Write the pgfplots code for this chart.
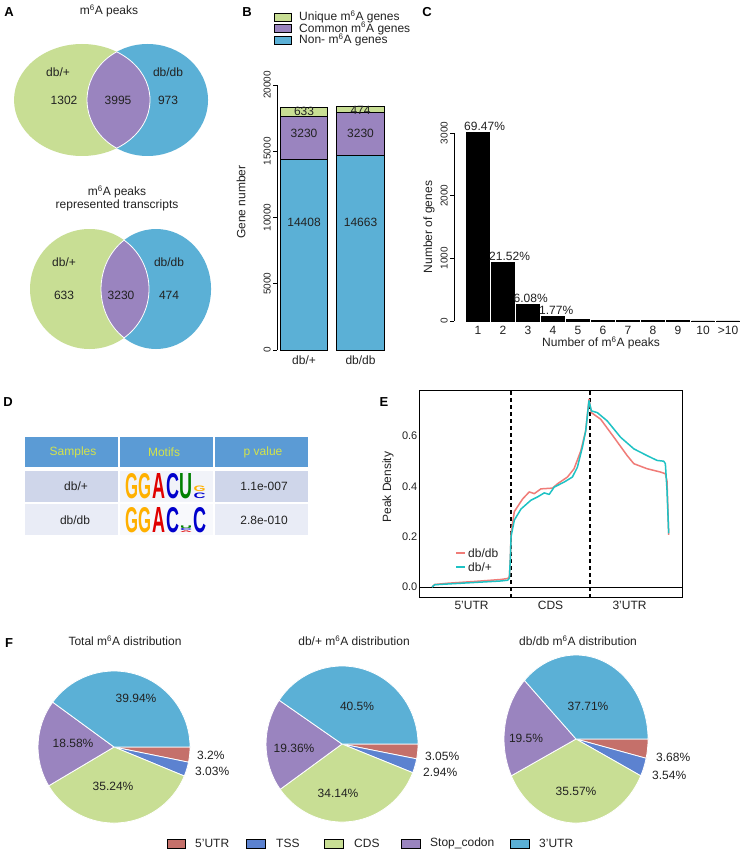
\documentclass[border=0pt]{standalone}
\usepackage{fontspec}
\setmainfont{Liberation Sans}
\usepackage{graphicx}
\usepackage{pgfplots}
\pgfplotsset{compat=1.18}
\pgfplotsset{/pgf/number format/assume math mode=true}

\definecolor{vgreen}{HTML}{C8DE94}
\definecolor{vblue}{HTML}{5BB0D6}
\definecolor{vpurple}{HTML}{9A84BF}
\definecolor{pred}{HTML}{C5706A}
\definecolor{ptss}{HTML}{5C82D0}
\definecolor{hdr}{HTML}{5B9BD5}
\definecolor{hdrtxt}{HTML}{D4E34A}
\definecolor{rowa}{HTML}{CFD6EA}
\definecolor{rowb}{HTML}{E9ECF6}
\definecolor{lred}{HTML}{F07C78}
\definecolor{lcyan}{HTML}{1EC2C4}
\definecolor{logoG}{HTML}{FFB000}
\definecolor{logoA}{HTML}{E00000}
\definecolor{logoC}{HTML}{0000CC}
\definecolor{logoU}{HTML}{008000}
\definecolor{txt}{HTML}{222222}

\newcommand\fs[1]{\fontsize{#1}{#1}\selectfont}
\newcommand\mA{m\textsuperscript{6}A}

% pie: cx, cy, rx, ry, 5'UTR, TSS, CDS, Stop_codon, 3'UTR (percent, clockwise from 3 o'clock)
\newcommand{\drawpie}[9]{%
\pgfmathsetmacro\pa{-3.6*(#5)}%
\pgfmathsetmacro\pb{\pa-3.6*(#6)}%
\pgfmathsetmacro\pc{\pb-3.6*(#7)}%
\pgfmathsetmacro\pd{\pc-3.6*(#8)}%
\pgfmathsetmacro\pe{\pd-3.6*(#9)}%
\edef\pietmp{%
\noexpand\filldraw[fill=pred,draw=white,line width=0.8pt] (axis cs:#1,#2) -- ++(0:#3pt and #4pt) arc[start angle=0,end angle=\pa,x radius=#3pt,y radius=#4pt] -- cycle;%
\noexpand\filldraw[fill=ptss,draw=white,line width=0.8pt] (axis cs:#1,#2) -- ++(\pa:#3pt and #4pt) arc[start angle=\pa,end angle=\pb,x radius=#3pt,y radius=#4pt] -- cycle;%
\noexpand\filldraw[fill=vgreen,draw=white,line width=0.8pt] (axis cs:#1,#2) -- ++(\pb:#3pt and #4pt) arc[start angle=\pb,end angle=\pc,x radius=#3pt,y radius=#4pt] -- cycle;%
\noexpand\filldraw[fill=vpurple,draw=white,line width=0.8pt] (axis cs:#1,#2) -- ++(\pc:#3pt and #4pt) arc[start angle=\pc,end angle=\pd,x radius=#3pt,y radius=#4pt] -- cycle;%
\noexpand\filldraw[fill=vblue,draw=white,line width=0.8pt] (axis cs:#1,#2) -- ++(\pd:#3pt and #4pt) arc[start angle=\pd,end angle=\pe,x radius=#3pt,y radius=#4pt] -- cycle;%
}\pietmp}

% motif letter: x-left, y-bottom, width, height, color, letter
\newcommand{\logo}[6]{\node[inner sep=0pt, anchor=south west] at (axis cs:#1,#2) {\resizebox{#3pt}{#4pt}{\textcolor{#5}{\bfseries #6}}};}

\begin{document}
\begin{tikzpicture}
\fill[white] (0pt,0pt) rectangle (742pt,856pt);

%================ background axis in pixel coordinates =================
\begin{axis}[at={(0pt,0pt)}, anchor=south west, scale only axis,
  width=742pt, height=856pt, xmin=0, xmax=742, ymin=0, ymax=856,
  y dir=reverse, hide axis, clip=false]
\addplot[draw=none] coordinates {(0,0)};

% panel letters
\node[font=\fs{13}\bfseries] at (axis cs:8,12) {A};
\node[font=\fs{13}\bfseries] at (axis cs:246,12) {B};
\node[font=\fs{13}\bfseries] at (axis cs:426,12) {C};
\node[font=\fs{13}\bfseries] at (axis cs:7,402) {D};
\node[font=\fs{13}\bfseries] at (axis cs:383,402) {E};
\node[font=\fs{13}\bfseries] at (axis cs:8,643) {F};

% ---- Venn top
\node[font=\fs{12}, text=txt] at (axis cs:108,11) {\mA\ peaks};
\fill[vgreen] (axis cs:81,100) ellipse [x radius=68pt, y radius=56pt];
\fill[vblue] (axis cs:146.5,100) ellipse [x radius=60.5pt, y radius=56pt];
\filldraw[fill=vpurple, draw=white, line width=0.8pt] (axis cs:81,100) ++(59.36:68pt and 56pt)
  arc[start angle=59.36, end angle=-59.36, x radius=68pt, y radius=56pt]
  arc[start angle=239.36, end angle=120.64, x radius=60.5pt, y radius=56pt] -- cycle;
\node[font=\fs{12}, text=txt] at (axis cs:57,72) {db/+};
\node[font=\fs{12}, text=txt] at (axis cs:63,100) {1302};
\node[font=\fs{12}, text=txt] at (axis cs:117,100) {3995};
\node[font=\fs{12}, text=txt] at (axis cs:167,72) {db/db};
\node[font=\fs{12}, text=txt] at (axis cs:167,100) {973};

% ---- Venn bottom
\node[font=\fs{12}, text=txt] at (axis cs:116,192) {\mA\ peaks};
\node[font=\fs{12}, text=txt] at (axis cs:116,205) {represented transcripts};
\fill[vgreen] (axis cs:88.5,289) ellipse [x radius=59.5pt, y radius=60pt];
\fill[vblue] (axis cs:155,289) ellipse [x radius=55pt, y radius=60pt];
\filldraw[fill=vpurple, draw=white, line width=0.8pt] (axis cs:88.5,289) ++(54.49:59.5pt and 60pt)
  arc[start angle=54.49, end angle=-54.49, x radius=59.5pt, y radius=60pt]
  arc[start angle=234.49, end angle=125.51, x radius=55pt, y radius=60pt] -- cycle;
\node[font=\fs{12}, text=txt] at (axis cs:63,262) {db/+};
\node[font=\fs{12}, text=txt] at (axis cs:63,295) {633};
\node[font=\fs{12}, text=txt] at (axis cs:120,295) {3230};
\node[font=\fs{12}, text=txt] at (axis cs:168,262) {db/db};
\node[font=\fs{12}, text=txt] at (axis cs:168,295) {474};

% ---- B legend and label
\filldraw[fill=vgreen, draw=black, line width=0.8pt] (axis cs:273,13) rectangle (axis cs:290,21);
\filldraw[fill=vpurple, draw=black, line width=0.8pt] (axis cs:273,24.5) rectangle (axis cs:290,32.5);
\filldraw[fill=vblue, draw=black, line width=0.8pt] (axis cs:273,36) rectangle (axis cs:290,44);
\node[font=\fs{12}, text=txt, anchor=west, inner sep=0pt] at (axis cs:298,17) {Unique \mA\ genes};
\node[font=\fs{12}, text=txt, anchor=west, inner sep=0pt] at (axis cs:298,28.5) {Common \mA\ genes};
\node[font=\fs{12}, text=txt, anchor=west, inner sep=0pt] at (axis cs:298,40) {Non- \mA\ genes};
\node[font=\fs{12}, text=txt, rotate=90] at (axis cs:240,202) {Gene number};

% ---- C labels
\node[font=\fs{12}, text=txt, rotate=90] at (axis cs:428,227) {Number of genes};
\node[font=\fs{12}, text=txt] at (axis cs:600,343) {Number of \mA\ peaks};

% ---- E labels and legend
\node[font=\fs{12}, text=txt, rotate=90] at (axis cs:387,487) {Peak Density};
\draw[lred, line width=1.5pt] (axis cs:455,553) -- (axis cs:464,553);
\draw[lcyan, line width=1.5pt] (axis cs:455,567) -- (axis cs:464,567);
\node[font=\fs{12}, text=txt, anchor=west, inner sep=0pt] at (axis cs:467,553) {db/db};
\node[font=\fs{12}, text=txt, anchor=west, inner sep=0pt] at (axis cs:467,567) {db/+};

% ---- D table
\fill[hdr] (axis cs:24,437) rectangle (axis cs:117,467);
\fill[hdr] (axis cs:118.5,437) rectangle (axis cs:212,467);
\fill[hdr] (axis cs:214,437) rectangle (axis cs:307,467);
\fill[rowa] (axis cs:24,471) rectangle (axis cs:117,502);
\fill[white!70!rowa] (axis cs:118.5,471) rectangle (axis cs:212,502);
\fill[rowa] (axis cs:214,471) rectangle (axis cs:307,502);
\fill[rowb] (axis cs:24,504) rectangle (axis cs:117,535);
\fill[white!70!rowb] (axis cs:118.5,504) rectangle (axis cs:212,535);
\fill[rowb] (axis cs:214,504) rectangle (axis cs:307,535);
\node[font=\fs{12}, text=hdrtxt] at (axis cs:72,452) {Samples};
\node[font=\fs{12}, text=hdrtxt] at (axis cs:163,452) {Motifs};
\node[font=\fs{12}, text=hdrtxt] at (axis cs:262,452) {p value};
\node[font=\fs{12}, text=txt] at (axis cs:75,486) {db/+};
\node[font=\fs{12}, text=txt] at (axis cs:263,486) {1.1e-007};
\node[font=\fs{12}, text=txt] at (axis cs:74,520) {db/db};
\node[font=\fs{12}, text=txt] at (axis cs:263,520) {2.8e-010};
% motif logos (row 1)
\logo{124}{499}{13}{25}{logoG}{G}
\logo{137.6}{499}{13}{25}{logoG}{G}
\logo{151.2}{499}{13}{25}{logoA}{A}
\logo{164.8}{499}{13}{25}{logoC}{C}
\logo{178.4}{499}{13}{25}{logoU}{U}
\logo{192.5}{492}{12}{5.5}{logoG}{G}
\logo{192.5}{499}{12}{5.5}{logoC}{C}
% motif logos (row 2)
\logo{124}{533}{13}{25}{logoG}{G}
\logo{137.6}{533}{13}{25}{logoG}{G}
\logo{151.2}{533}{13}{25}{logoA}{A}
\logo{164.8}{533}{13}{25}{logoC}{C}
\logo{179}{528.5}{12}{2.6}{logoU}{U}
\logo{179}{531}{12}{2}{logoC}{C}
\logo{179}{533}{12}{1.6}{logoA}{A}
\logo{192.5}{533}{13}{25}{logoC}{C}

% ---- F pies
\node[font=\fs{12}, text=txt] at (axis cs:124,641) {Total \mA\ distribution};
\node[font=\fs{12}, text=txt] at (axis cs:353,641) {db/+ \mA\ distribution};
\node[font=\fs{12}, text=txt] at (axis cs:577,641) {db/db \mA\ distribution};
\drawpie{113}{747}{76}{76}{3.2}{3.03}{35.24}{18.58}{39.94}
\drawpie{341}{744}{76}{78}{3.05}{2.94}{34.14}{19.36}{40.5}
\drawpie{575}{739}{72}{84}{3.68}{3.54}{35.57}{19.5}{37.71}
% pie labels
\node[font=\fs{12}, text=txt] at (axis cs:135,698) {39.94\%};
\node[font=\fs{12}, text=txt] at (axis cs:72,743) {18.58\%};
\node[font=\fs{12}, text=txt] at (axis cs:112,786) {35.24\%};
\node[font=\fs{12}, text=txt, anchor=west, inner sep=0pt] at (axis cs:196,755) {3.2\%};
\node[font=\fs{12}, text=txt, anchor=west, inner sep=0pt] at (axis cs:194,771) {3.03\%};
\node[font=\fs{12}, text=txt] at (axis cs:356,706) {40.5\%};
\node[font=\fs{12}, text=txt] at (axis cs:293,748) {19.36\%};
\node[font=\fs{12}, text=txt] at (axis cs:337,793) {34.14\%};
\node[font=\fs{12}, text=txt, anchor=west, inner sep=0pt] at (axis cs:424,756) {3.05\%};
\node[font=\fs{12}, text=txt, anchor=west, inner sep=0pt] at (axis cs:422,772) {2.94\%};
\node[font=\fs{12}, text=txt] at (axis cs:587,706) {37.71\%};
\node[font=\fs{12}, text=txt] at (axis cs:525,738) {19.5\%};
\node[font=\fs{12}, text=txt] at (axis cs:575,791) {35.57\%};
\node[font=\fs{12}, text=txt, anchor=west, inner sep=0pt] at (axis cs:655,757) {3.68\%};
\node[font=\fs{12}, text=txt, anchor=west, inner sep=0pt] at (axis cs:651,775) {3.54\%};
% pie legend
\filldraw[fill=pred, draw=black, line width=0.8pt] (axis cs:166,839) rectangle (axis cs:184,848);
\filldraw[fill=ptss, draw=black, line width=0.8pt] (axis cs:245,839) rectangle (axis cs:264,848);
\filldraw[fill=vgreen, draw=black, line width=0.8pt] (axis cs:323,839) rectangle (axis cs:342,848);
\filldraw[fill=vpurple, draw=black, line width=0.8pt] (axis cs:400,839) rectangle (axis cs:419,848);
\filldraw[fill=vblue, draw=black, line width=0.8pt] (axis cs:509,839) rectangle (axis cs:528,848);
\node[font=\fs{12}, text=txt, anchor=west, inner sep=0pt] at (axis cs:194,843.5) {5'UTR};
\node[font=\fs{12}, text=txt, anchor=west, inner sep=0pt] at (axis cs:275,843.5) {TSS};
\node[font=\fs{12}, text=txt, anchor=west, inner sep=0pt] at (axis cs:353,843.5) {CDS};
\node[font=\fs{12}, text=txt, anchor=west, inner sep=0pt] at (axis cs:429,843.5) {Stop\_codon};
\node[font=\fs{12}, text=txt, anchor=west, inner sep=0pt] at (axis cs:538,843.5) {3'UTR};
\end{axis}

%================ B: stacked bars =================
\begin{axis}[at={(276pt,506pt)}, anchor=south west, scale only axis,
  width=111.76pt, height=265pt, xmin=0.522, xmax=2.5, ymin=0, ymax=20000,
  ybar stacked, bar width=47.5pt, scaled y ticks=false,
  axis y line*=left, axis x line*=bottom,
  x axis line style={draw=none}, y axis line style={-, line width=0.8pt},
  xtick={1,2}, xticklabels={db/+,db/db}, xtick style={draw=none},
  ytick={0,5000,10000,15000,20000}, yticklabels={0,5000,10000,15000,20000},
  ytick style={line width=0.8pt, black}, tick align=outside, major tick length=4pt,
  yticklabel style={rotate=90, anchor=south, font=\fs{10}, text=txt, inner sep=2pt},
  xticklabel style={font=\fs{12}, text=txt, inner sep=2pt},
  clip=false]
\addplot[fill=vblue, draw=black, line width=0.9pt] coordinates {(1,14408) (2,14663)};
\addplot[fill=vpurple, draw=black, line width=0.9pt] coordinates {(1,3230) (2,3230)};
\addplot[fill=vgreen, draw=black, line width=0.9pt] coordinates {(1,633) (2,474)};
\end{axis}
% B: segment labels on top of the bars (same geometry)
\begin{axis}[at={(276pt,506pt)}, anchor=south west, scale only axis,
  width=111.76pt, height=265pt, xmin=0.522, xmax=2.5, ymin=0, ymax=20000,
  hide axis, clip=false]
\addplot[draw=none] coordinates {(1,0)};
\node[font=\fs{12}, text=txt] at (axis cs:1,9650) {14408};
\node[font=\fs{12}, text=txt] at (axis cs:2,9650) {14663};
\node[font=\fs{12}, text=txt] at (axis cs:1,16350) {3230};
\node[font=\fs{12}, text=txt] at (axis cs:2,16350) {3230};
\node[font=\fs{12}, text=txt] at (axis cs:1,18000) {633};
\node[font=\fs{12}, text=txt] at (axis cs:2,18100) {474};
\end{axis}

%================ C: peak-count bars =================
\begin{axis}[at={(453pt,535pt)}, anchor=south west, scale only axis,
  width=286.5pt, height=188pt, xmin=0.04, xmax=11.5, ymin=0, ymax=3000,
  ybar, bar width=22.5pt, scaled y ticks=false,
  axis y line*=left, axis x line*=bottom,
  x axis line style={draw=none}, y axis line style={-, line width=0.8pt},
  xtick={1,2,3,4,5,6,7,8,9,10,11}, xticklabels={1,2,3,4,5,6,7,8,9,10,>10},
  xtick style={draw=none},
  ytick={0,1000,2000,3000}, yticklabels={0,1000,2000,3000},
  ytick style={line width=0.8pt, black}, tick align=outside, major tick length=4pt,
  yticklabel style={rotate=90, anchor=south, font=\fs{10}, text=txt, inner sep=2pt},
  xticklabel style={font=\fs{12}, text=txt, inner sep=1pt},
  clip=false]
\addplot[fill=black, draw=black, line width=0.6pt] coordinates {(1,3013) (2,933) (3,264) (4,77) (5,20) (6,14) (7,6) (8,5) (9,4) (10,3) (11,3)};
\node[font=\fs{12}, text=txt, anchor=south west, inner sep=0pt] at (axis cs:0.44,3013) [yshift=1.5pt] {69.47\%};
\node[font=\fs{12}, text=txt, anchor=south west, inner sep=0pt] at (axis cs:1.44,933) [yshift=1.5pt] {21.52\%};
\node[font=\fs{12}, text=txt, anchor=south west, inner sep=0pt] at (axis cs:2.42,264) [yshift=1.5pt] {6.08\%};
\node[font=\fs{12}, text=txt, anchor=south west, inner sep=0pt] at (axis cs:3.44,77) [yshift=1.5pt] {1.77\%};
\end{axis}

%================ E: peak density =================
\begin{axis}[at={(418pt,258pt)}, anchor=south west, scale only axis,
  width=263pt, height=207pt, xmin=-0.165, xmax=3.165, ymin=-0.0437, ymax=0.779,
  axis line style={line width=1pt, black},
  xtick={0.5,1.5,2.5}, xticklabels={5'UTR,CDS,3'UTR},
  ytick={0,0.2,0.4,0.6}, yticklabels={0.0,0.2,0.4,0.6},
  major tick length=0pt, tick style={draw=none},
  yticklabel style={font=\fs{11}, text=txt, inner sep=1.5pt},
  xticklabel style={font=\fs{12}, text=txt, inner sep=3pt}]
\addplot[black, line width=1pt] coordinates {(-0.165,0) (3.165,0)};
\addplot[black, line width=1.4pt, dash pattern=on 4pt off 3pt] coordinates {(1,-0.0437) (1,0.779)};
\addplot[black, line width=1.4pt, dash pattern=on 4pt off 3pt] coordinates {(2,-0.0437) (2,0.779)};
\addplot[lred, line width=1.5pt, line join=round] coordinates {
(0,0) (0.034,0.010) (0.2,0.015) (0.538,0.022) (0.874,0.030) (0.958,0.034) (0.979,0.040) (0.992,0.12) (1.0,0.213) (1.042,0.300) (1.147,0.350) (1.231,0.378) (1.294,0.371) (1.378,0.390) (1.525,0.393) (1.588,0.410) (1.714,0.437) (1.798,0.470) (1.882,0.540) (1.945,0.620) (1.987,0.746) (2.017,0.693) (2.134,0.667) (2.303,0.595) (2.471,0.522) (2.555,0.490) (2.723,0.470) (2.891,0.457) (2.954,0.450) (2.975,0.42) (2.996,0.207)};
\addplot[lcyan, line width=1.5pt, line join=round] coordinates {
(0,0) (0.034,0.009) (0.2,0.012) (0.538,0.018) (0.874,0.024) (0.958,0.027) (0.979,0.035) (0.992,0.12) (1.0,0.200) (1.042,0.266) (1.126,0.310) (1.252,0.345) (1.336,0.358) (1.420,0.374) (1.483,0.368) (1.546,0.397) (1.672,0.417) (1.777,0.437) (1.840,0.476) (1.903,0.555) (1.945,0.620) (1.987,0.740) (2.017,0.700) (2.092,0.693) (2.218,0.660) (2.387,0.595) (2.555,0.549) (2.723,0.522) (2.849,0.503) (2.933,0.500) (2.954,0.49) (2.975,0.384) (2.996,0.213)};
\end{axis}
\end{tikzpicture}
\end{document}
